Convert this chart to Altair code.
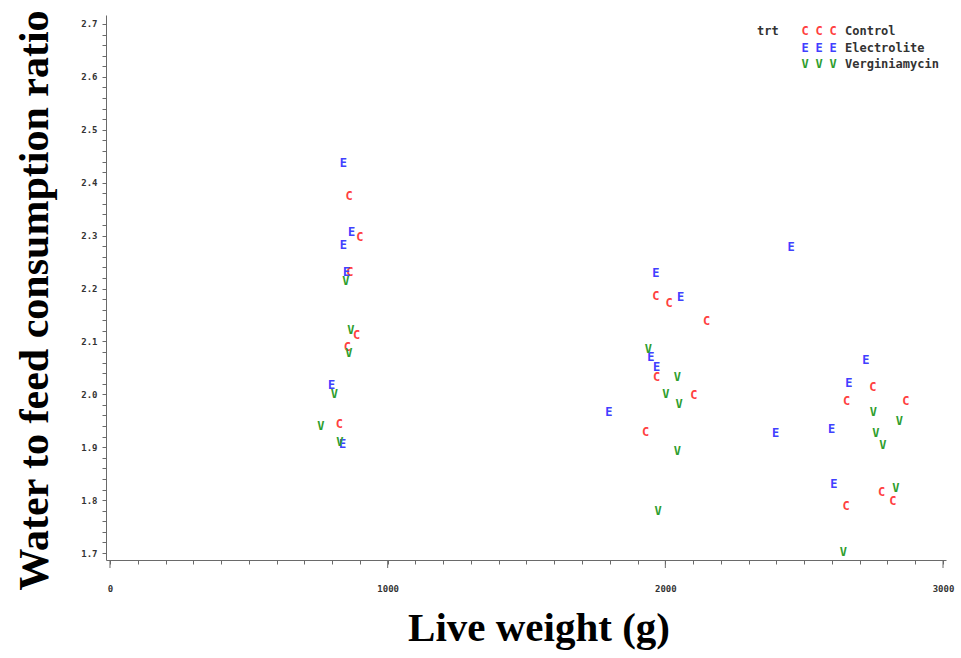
import altair as alt
import pandas as pd

# ---- data ----
control_x = [861, 900, 864, 888, 855, 826, 1966, 2014, 2149, 1969, 2103, 1929, 2747, 2653, 2866, 2779, 2819, 2651]
control_y = [2.374, 2.298, 2.232, 2.112, 2.090, 1.944, 2.186, 2.172, 2.139, 2.032, 1.999, 1.928, 2.014, 1.988, 1.988, 1.816, 1.799, 1.788]

electro_x = [840, 870, 840, 852, 798, 838, 1966, 2055, 1948, 1969, 1797, 2453, 2722, 2661, 2397, 2599, 2607]
electro_y = [2.438, 2.307, 2.282, 2.232, 2.018, 1.906, 2.230, 2.183, 2.071, 2.052, 1.967, 2.278, 2.065, 2.021, 1.927, 1.934, 1.830]

vergin_x = [849, 867, 860, 808, 759, 828, 1939, 2043, 2002, 2050, 2043, 1974, 2749, 2843, 2758, 2783, 2830, 2641]
vergin_y = [2.215, 2.122, 2.079, 2.000, 1.941, 1.910, 2.085, 2.032, 2.001, 1.982, 1.893, 1.779, 1.967, 1.950, 1.926, 1.904, 1.823, 1.702]

groups = ["Control", "Electrolite", "Verginiamycin"]
letters = ["C", "E", "V"]
colors = ["#FF4040", "#4040FF", "#2E9E2E"]

x_ticks = list(range(0, 3001, 100))
x_major = [0, 1000, 2000, 3000]
y_ticks = [round(1.70 + 0.02 * i, 2) for i in range(51)]

rows = []
for g, l, xs, ys in zip(groups, letters, [control_x, electro_x, vergin_x], [control_y, electro_y, vergin_y]):
    for xv, yv in zip(xs, ys):
        rows.append({"trt": g, "sym": l, "weight": xv, "ratio": yv})
df = pd.DataFrame(rows)

W, H = 840, 545
tick_font = "DejaVu Sans Mono"
axis_col = "#6a6a6a"

x_scale = alt.Scale(domain=[-14.4, 3010.8], nice=False, zero=False)
y_scale = alt.Scale(domain=[1.6868, 2.717], nice=False, zero=False)

x_axis = alt.Axis(
    values=x_ticks, format="d",
    labelExpr="datum.value % 1000 === 0 ? datum.label : ''",
    tickSize=4, tickColor=axis_col, tickWidth=1,
    domainColor=axis_col, domainWidth=1,
    labelFont=tick_font, labelFontSize=9, labelFontWeight="bold", labelColor="#333333",
    labelPadding=20, labelOverlap=False, labelFlush=False, grid=False,
    title="Live weight (g)", titleFont="Liberation Serif", titleFontSize=41,
    titleFontWeight="bold", titleColor="#000000",
    titleX=432.5, titleY=80, titleAlign="center", titleBaseline="alphabetic", titleAngle=0,
)
y_axis = alt.Axis(
    values=y_ticks,
    labelExpr="abs(datum.value*10 - round(datum.value*10)) < 0.01 ? format(datum.value, '.1f') : ''",
    tickSize=4, tickColor=axis_col, tickWidth=1,
    domainColor=axis_col, domainWidth=1,
    labelFont=tick_font, labelFontSize=9, labelFontWeight="bold", labelColor="#333333",
    labelPadding=5, labelOverlap=False, labelFlush=False, grid=False,
    title="Water to feed consumption ratio", titleFont="Liberation Serif", titleFontSize=42,
    titleFontWeight="bold", titleColor="#000000",
    titleX=-59, titleY=285, titleAlign="center", titleBaseline="alphabetic", titleAngle=270,
)

points = alt.Chart(df).mark_text(
    font=tick_font, fontSize=12, fontWeight="bold", align="center", baseline="middle"
).encode(
    x=alt.X("weight:Q", scale=x_scale, axis=x_axis),
    y=alt.Y("ratio:Q", scale=y_scale, axis=y_axis),
    text="sym:N",
    color=alt.Color("trt:N", scale=alt.Scale(domain=groups, range=colors), legend=None),
)

major = alt.Chart(pd.DataFrame({"weight": x_major})).mark_rule(color=axis_col, strokeWidth=1).encode(
    x=alt.X("weight:Q", scale=x_scale, axis=x_axis),
    y=alt.value(H), y2=alt.value(H + 8),
)

# ---- custom legend ----
legend_layers = []
one = alt.Data(values=[{"a": 1}])
legend_layers.append(
    alt.Chart(one).mark_text(text="trt", font=tick_font, fontSize=12, fontWeight="bold",
                             align="left", baseline="middle", color="#333333")
    .encode(x=alt.value(651), y=alt.value(16))
)
row_y = [16, 33, 49]
letter_x = [699, 713, 727]
for g, l, c, ry in zip(groups, letters, colors, row_y):
    for lx in letter_x:
        legend_layers.append(
            alt.Chart(one).mark_text(text=l, font=tick_font, fontSize=12, fontWeight="bold",
                                     align="center", baseline="middle", color=c)
            .encode(x=alt.value(lx), y=alt.value(ry))
        )
    legend_layers.append(
        alt.Chart(one).mark_text(text=g, font=tick_font, fontSize=12, fontWeight="bold",
                                 align="left", baseline="middle", color="#333333")
        .encode(x=alt.value(739), y=alt.value(ry))
    )

chart = alt.layer(points, major, *legend_layers).properties(
    width=W, height=H,
    autosize=alt.AutoSizeParams(type="none"),
    padding={"left": 106, "top": 15, "right": 15, "bottom": 98},
    background="white",
).configure_view(stroke=None)

chart.save("out.html", embed_options={"renderer": "svg", "actions": False})
